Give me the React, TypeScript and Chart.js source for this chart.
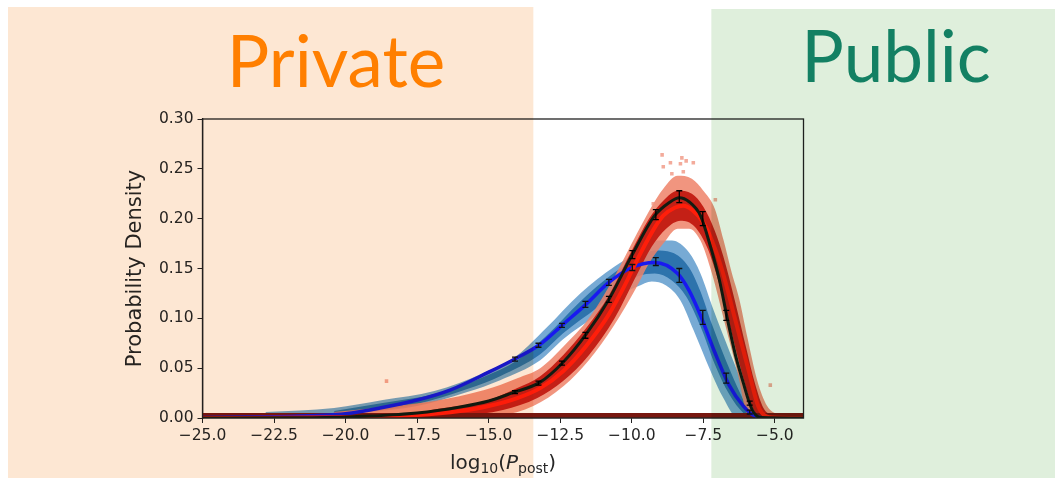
import { useEffect, useRef } from 'react';
import { Chart, registerables } from 'chart.js';

Chart.register(...registerables);

// ---------- axis / labels ----------
const X_MIN = -25;
const X_MAX = -4;
const X_STEP = 2.5;
const Y_MIN = 0;
const Y_MAX = 0.3;
const Y_STEP = 0.05;
const Y_TITLE = 'Probability Density';
const PRIVATE_LABEL = 'Private';
const PUBLIC_LABEL = 'Public';
const PRIVATE_EDGE = -13.44; // right edge of the "Private" zone (x value)
const PUBLIC_EDGE = -7.22; // left edge of the "Public" zone (x value)
// x title pieces: [text, isSubscript, isItalic]
const X_TITLE_PARTS: [string, boolean, boolean][] = [
  ['log', false, false],
  ['10', true, false],
  ['(', false, false],
  ['P', false, true],
  ['post', true, false],
  [')', false, false],
];

// ---------- fitted curves ----------
const blueLineX = [-25, -22.5, -21, -20, -18.8, -17.5, -16.35, -15, -14.1, -13.2, -12.4, -11.6, -10.8, -10, -9.2, -8.4, -8, -7.6, -7.1, -6.6, -6.1, -5.7, -5.2, -4];
const blueLineY = [0.0005, 0.0013, 0.0025, 0.0043, 0.01, 0.018, 0.028, 0.046, 0.059, 0.074, 0.094, 0.114, 0.136, 0.151, 0.156, 0.145, 0.128, 0.103, 0.066, 0.033, 0.012, 0.002, 0, 0];

const blackLineX = [-25, -22, -20, -17.5, -16, -15, -14.2, -13.2, -12.4, -11.6, -10.8, -10, -9.2, -8.7, -8.34, -8, -7.6, -7.25, -6.95, -6.65, -6.35, -6.1, -5.9, -5.75, -5.5, -4];
const blackLineY = [0, 0.0002, 0.001, 0.005, 0.011, 0.017, 0.025, 0.036, 0.056, 0.084, 0.119, 0.163, 0.203, 0.216, 0.221, 0.217, 0.203, 0.172, 0.14, 0.098, 0.06, 0.035, 0.016, 0.006, 0.0005, 0];

const redLineX = [-25, -20, -17.5, -16, -15, -14, -13.2, -12.4, -11.6, -10.8, -10.3, -9.7, -9.2, -8.9, -8.5, -8.2, -7.9, -7.5, -7.2, -6.85, -6.38, -5.92, -5.62, -5.45, -5.1, -4];
const redLineY = [0, 0.0007, 0.003, 0.007, 0.012, 0.02, 0.03, 0.047, 0.072, 0.104, 0.13, 0.165, 0.191, 0.203, 0.211, 0.213, 0.209, 0.196, 0.178, 0.149, 0.098, 0.048, 0.015, 0.005, 0.0005, 0];

// ---------- density clouds (upper / lower edges) ----------
const blueOuterUpX = [-22.8, -20.4, -18.7, -16.9, -15.2, -14.0, -13.0, -11.8, -10.6, -9.8, -9.2, -8.6, -8.0, -7.6, -7.14, -6.56, -6.1, -5.75, -5.5];
const blueOuterUpY = [0.006, 0.01, 0.018, 0.027, 0.045, 0.063, 0.09, 0.125, 0.152, 0.166, 0.178, 0.178, 0.166, 0.145, 0.108, 0.065, 0.032, 0.008, 0];
const blueOuterLoX = [-22.8, -19.3, -17.5, -15.75, -14.6, -13.2, -12.4, -11.2, -10.4, -9.8, -9.3, -8.8, -8.3, -7.84, -7.26, -6.8, -6.3, -5.5];
const blueOuterLoY = [0.001, 0.006, 0.012, 0.026, 0.038, 0.058, 0.079, 0.104, 0.124, 0.132, 0.137, 0.133, 0.118, 0.088, 0.048, 0.02, 0, 0];

const blueInnerUpX = [-20.4, -18.7, -16.9, -15.2, -14.0, -13.0, -11.8, -10.6, -9.8, -9.2, -8.6, -8.0, -7.6, -7.2, -6.7, -6.2, -5.85];
const blueInnerUpY = [0.007, 0.015, 0.024, 0.041, 0.058, 0.082, 0.117, 0.146, 0.16, 0.168, 0.166, 0.151, 0.127, 0.094, 0.057, 0.024, 0.004];
const blueInnerLoX = [-20.4, -17.5, -15.75, -14.6, -13.2, -12.4, -11.2, -10.4, -9.8, -9.2, -8.6, -8.1, -7.6, -7.1, -6.6, -6.1, -5.85];
const blueInnerLoY = [0.002, 0.014, 0.029, 0.042, 0.064, 0.085, 0.111, 0.131, 0.142, 0.145, 0.138, 0.122, 0.092, 0.054, 0.024, 0.005, 0.002];

const redOuterUpX = [-20.4, -18.6, -16.9, -15.15, -14.0, -13.2, -12.38, -11.5, -10.64, -9.82, -9.35, -8.9, -8.4, -7.9, -7.5, -7.1, -6.8, -6.5, -6.25, -5.97, -5.62, -5.27, -4.9];
const redOuterUpY = [0.006, 0.011, 0.017, 0.028, 0.04, 0.05, 0.072, 0.1, 0.14, 0.185, 0.21, 0.23, 0.243, 0.24, 0.228, 0.21, 0.179, 0.145, 0.12, 0.082, 0.038, 0.012, 0.003];
const redOuterLoX = [-20.4, -14.6, -13.44, -12.38, -11.5, -10.64, -9.82, -9.4, -8.9, -8.4, -8.0, -7.6, -7.2, -6.75, -6.3, -5.95, -4.9];
const redOuterLoY = [0, 0.003, 0.012, 0.032, 0.058, 0.092, 0.132, 0.155, 0.175, 0.19, 0.19, 0.178, 0.145, 0.095, 0.045, 0.004, 0];

const redInnerUpX = [-17, -15, -14, -13.2, -12.4, -11.6, -10.8, -10.0, -9.4, -8.9, -8.4, -7.9, -7.5, -7.1, -6.8, -6.4, -6.0, -5.7, -5.4, -5.1];
const redInnerUpY = [0.008, 0.018, 0.03, 0.042, 0.063, 0.09, 0.123, 0.168, 0.2, 0.218, 0.228, 0.225, 0.212, 0.188, 0.162, 0.118, 0.07, 0.035, 0.01, 0.002];
const redInnerLoX = [-17, -16, -14.5, -13.3, -12.4, -11.5, -10.6, -9.8, -9.3, -8.8, -8.3, -7.8, -7.35, -6.95, -6.55, -6.15, -5.8, -5.5, -5.1];
const redInnerLoY = [0, 0.002, 0.008, 0.02, 0.037, 0.063, 0.1, 0.145, 0.172, 0.19, 0.198, 0.192, 0.17, 0.135, 0.09, 0.045, 0.012, 0, 0];

// stray red cells
const redDotsX = [-8.94, -8.65, -8.25, -8.1, -8.3, -7.85, -8.9, -8.2, -8.6, -9.25, -7.08, -18.57, -5.16];
const redDotsY = [0.264, 0.256, 0.261, 0.258, 0.255, 0.256, 0.252, 0.247, 0.245, 0.215, 0.219, 0.037, 0.033];

// dark floor row of the density map
const floorX = [-25, -4];
const floorY = [0.0025, 0.0025];

// ---------- binned means with error bars ----------
const binX = [-14.08, -13.26, -12.44, -11.62, -10.8, -9.98, -9.16, -8.34, -7.52, -6.7, -5.88];
const blackMean = [0.026, 0.035, 0.055, 0.083, 0.119, 0.164, 0.204, 0.222, 0.2, 0.103, 0.015];
const blackErr = [0.0015, 0.002, 0.002, 0.003, 0.003, 0.004, 0.005, 0.006, 0.007, 0.005, 0.002];
const blueMean = [0.059, 0.073, 0.093, 0.114, 0.136, 0.151, 0.157, 0.143, 0.101, 0.04, 0.006];
const blueErr = [0.002, 0.002, 0.002, 0.003, 0.003, 0.003, 0.004, 0.007, 0.007, 0.005, 0.002];

const pts = (xs: number[], ys: number[]) => xs.map((x, i) => ({ x, y: ys[i] }));

const band = (xs: number[], ys: number[], fill: any, bg: string, order: number) => ({
  data: pts(xs, ys),
  borderColor: 'rgba(0,0,0,0)',
  borderWidth: 0,
  backgroundColor: bg,
  pointRadius: 0,
  fill,
  cubicInterpolationMode: 'monotone',
  order,
});

const curve = (xs: number[], ys: number[], color: string, width: number, order: number) => ({
  data: pts(xs, ys),
  borderColor: color,
  borderWidth: width,
  pointRadius: 0,
  fill: false,
  cubicInterpolationMode: 'monotone',
  borderCapStyle: 'round',
  order,
});

const decorPlugin = {
  id: 'decor',
  afterDatasetsDraw(chart: any) {
    const { ctx, chartArea: a } = chart;
    const xs = chart.scales.x;
    const ys = chart.scales.y;
    ctx.save();
    ctx.beginPath();
    ctx.rect(a.left, a.top, a.right - a.left, a.bottom - a.top);
    ctx.clip();
    const bars = (mean: number[], err: number[], color: string) => {
      ctx.strokeStyle = color;
      ctx.lineWidth = 1.3;
      for (let i = 0; i < binX.length; i++) {
        const px = xs.getPixelForValue(binX[i]);
        const y1 = ys.getPixelForValue(mean[i] - err[i]);
        const y2 = ys.getPixelForValue(mean[i] + err[i]);
        ctx.beginPath();
        ctx.moveTo(px, y1);
        ctx.lineTo(px, y2);
        ctx.moveTo(px - 3, y1);
        ctx.lineTo(px + 3, y1);
        ctx.moveTo(px - 3, y2);
        ctx.lineTo(px + 3, y2);
        ctx.stroke();
      }
    };
    bars(blueMean, blueErr, '#111');
    bars(blackMean, blackErr, '#000');
    ctx.restore();
    ctx.save();
    ctx.strokeStyle = '#222';
    ctx.lineWidth = 1.3;
    ctx.strokeRect(a.left, a.top, a.right - a.left, a.bottom - a.top);
    ctx.restore();
  },
  afterDraw(chart: any) {
    const { ctx, chartArea: a } = chart;
    const xs = chart.scales.x;
    const W = chart.width;
    const H = chart.height;
    ctx.save();
    ctx.globalCompositeOperation = 'multiply';
    const oRight = xs.getPixelForValue(PRIVATE_EDGE);
    ctx.fillStyle = 'rgb(253,231,211)';
    ctx.fillRect(8, 7, oRight - 8, H - 7);
    const gLeft = xs.getPixelForValue(PUBLIC_EDGE);
    ctx.fillStyle = 'rgb(223,239,220)';
    ctx.fillRect(gLeft, 9, W - gLeft, H - 9);
    ctx.globalCompositeOperation = 'source-over';

    ctx.textAlign = 'center';
    ctx.textBaseline = 'alphabetic';
    ctx.font = '71px Lato';
    ctx.fillStyle = '#ff7f00';
    ctx.fillText(PRIVATE_LABEL, 336, 87);
    ctx.fillStyle = '#138063';
    ctx.fillText(PUBLIC_LABEL, 896, 82);

    // x-axis title with subscripts
    const big = 20;
    const small = 14;
    const fontOf = (sub: boolean, it: boolean) =>
      `${it ? 'italic ' : ''}${sub ? small : big}px "DejaVu Sans"`;
    let total = 0;
    for (const [t, sub, it] of X_TITLE_PARTS) {
      ctx.font = fontOf(sub, it);
      total += ctx.measureText(t).width;
    }
    let cx = (a.left + a.right) / 2 - total / 2;
    const base = 469;
    ctx.textAlign = 'left';
    ctx.fillStyle = '#262626';
    for (const [t, sub, it] of X_TITLE_PARTS) {
      ctx.font = fontOf(sub, it);
      ctx.fillText(t, cx, base + (sub ? 4 : 0));
      cx += ctx.measureText(t).width;
    }
    ctx.restore();
  },
};

export default function App() {
  const ref = useRef<HTMLCanvasElement | null>(null);

  useEffect(() => {
    if (!ref.current) return;
    document.body.style.margin = '0';
    Chart.defaults.font.family = '"DejaVu Sans", sans-serif';
    const chart = new Chart(ref.current, {
      type: 'line',
      data: {
        datasets: [
          band(blueOuterUpX, blueOuterUpY, '+1', 'rgba(95,155,205,0.85)', 20),
          band(blueOuterLoX, blueOuterLoY, false, 'rgba(0,0,0,0)', 20),
          band(blueInnerUpX, blueInnerUpY, '+1', 'rgb(45,115,172)', 19),
          band(blueInnerLoX, blueInnerLoY, false, 'rgba(0,0,0,0)', 19),
          band(redOuterUpX, redOuterUpY, '+1', 'rgba(238,130,105,0.85)', 18),
          band(redOuterLoX, redOuterLoY, false, 'rgba(0,0,0,0)', 18),
          band(redInnerUpX, redInnerUpY, '+1', 'rgb(196,32,22)', 17),
          band(redInnerLoX, redInnerLoY, false, 'rgba(0,0,0,0)', 17),
          {
            data: pts(redDotsX, redDotsY),
            showLine: false,
            pointStyle: 'rect',
            pointRadius: 2.5,
            pointBorderWidth: 0,
            pointBackgroundColor: 'rgba(240,150,130,0.8)',
            borderColor: 'rgba(0,0,0,0)',
            order: 16,
          },
          curve(floorX, floorY, 'rgb(120,24,16)', 5, 15),
          curve(blueLineX, blueLineY, 'rgb(25,25,240)', 3.5, 3),
          curve(redLineX, redLineY, 'rgb(255,30,10)', 4, 2),
          curve(blackLineX, blackLineY, 'rgb(18,28,18)', 3, 1),
        ] as any,
      },
      options: {
        animation: false,
        responsive: true,
        maintainAspectRatio: false,
        events: [],
        layout: { padding: { left: 122.5, right: 251.5, top: 119, bottom: 0 } },
        plugins: { legend: { display: false }, tooltip: { enabled: false } },
        scales: {
          x: {
            type: 'linear',
            min: X_MIN,
            max: X_MAX,
            grid: { drawOnChartArea: false, drawTicks: true, tickLength: 5, color: '#222' },
            border: { display: true, color: '#222', width: 1.3 },
            ticks: {
              stepSize: X_STEP,
              includeBounds: false,
              maxRotation: 0,
              autoSkip: false,
              padding: 4,
              color: '#262626',
              font: { size: 15.5 },
              callback: (v: any) => Number(v).toFixed(1).replace('-', '\u2212'),
            },
            afterFit: (s: any) => {
              s.height = 60;
            },
          },
          y: {
            type: 'linear',
            min: Y_MIN,
            max: Y_MAX,
            grid: { drawOnChartArea: false, drawTicks: true, tickLength: 5, color: '#222' },
            border: { display: true, color: '#222', width: 1.3 },
            title: {
              display: true,
              text: Y_TITLE,
              color: '#262626',
              font: { size: 21 },
              padding: { top: 0, bottom: 0 },
            },
            ticks: {
              stepSize: Y_STEP,
              padding: 4,
              color: '#262626',
              font: { size: 15.5 },
              callback: (v: any) => Number(v).toFixed(2),
            },
            afterFit: (s: any) => {
              s.width = 80;
            },
          },
        },
      } as any,
      plugins: [decorPlugin],
    });
    return () => chart.destroy();
  }, []);

  return (
    <div style={{ position: 'fixed', left: 0, top: 0, width: 1055, height: 478, background: '#fff' }}>
      <canvas ref={ref} />
    </div>
  );
}
